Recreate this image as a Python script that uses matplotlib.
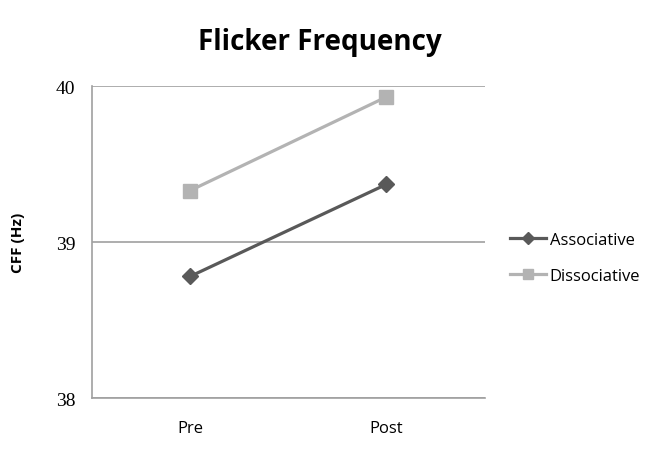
import matplotlib
matplotlib.use('Agg')
import matplotlib.pyplot as plt
import numpy as np

categories = ['Pre', 'Post']
associative = [38.78, 39.37]
dissociative = [39.33, 39.93]
y_ticks = [38, 39, 40]

fig = plt.figure(figsize=(6.5, 4.52), dpi=100)
ax = fig.add_axes([0.1415, 0.117, 0.604, 0.6905])

x = np.arange(len(categories))
ax.plot(x, associative, color='#595959', lw=2.3, marker='D', ms=8, label='Associative')
ax.plot(x, dissociative, color='#b3b3b3', lw=2.3, marker='s', ms=10.5, label='Dissociative')

ax.set_xlim(-0.5, 1.5)
ax.set_ylim(38, 40)
ax.set_yticks(y_ticks)
ax.set_yticklabels([str(t) for t in y_ticks], family='Liberation Serif', fontsize=14)
ax.set_xticks(x)
ax.set_xticklabels(categories, family='Open Sans', fontsize=12)
ax.tick_params(axis='x', length=0, pad=16)
ax.tick_params(axis='y', length=0, pad=12)
ax.yaxis.grid(True, color='#a0a0a0', lw=1.2)
ax.set_axisbelow(True)
for side in ['top', 'right']:
    ax.spines[side].set_visible(False)
for side in ['left', 'bottom']:
    ax.spines[side].set_color('#a0a0a0')
    ax.spines[side].set_linewidth(1.2)

ax.set_ylabel('CFF (Hz)', family='Open Sans', fontweight='bold', fontsize=11, labelpad=22)
fig.text(0.492, 0.905, 'Flicker Frequency', ha='center', va='center',
         family='Open Sans', fontweight='bold', fontsize=20)

leg = ax.legend(loc='center left', bbox_to_anchor=(1.064, 0.45), frameon=False,
                prop={'family': 'Open Sans', 'size': 12}, handlelength=2.2,
                handletextpad=0.2, labelspacing=1.2, borderpad=0, borderaxespad=0,
                markerscale=0.75)

fig.savefig('out.png', dpi=100)
